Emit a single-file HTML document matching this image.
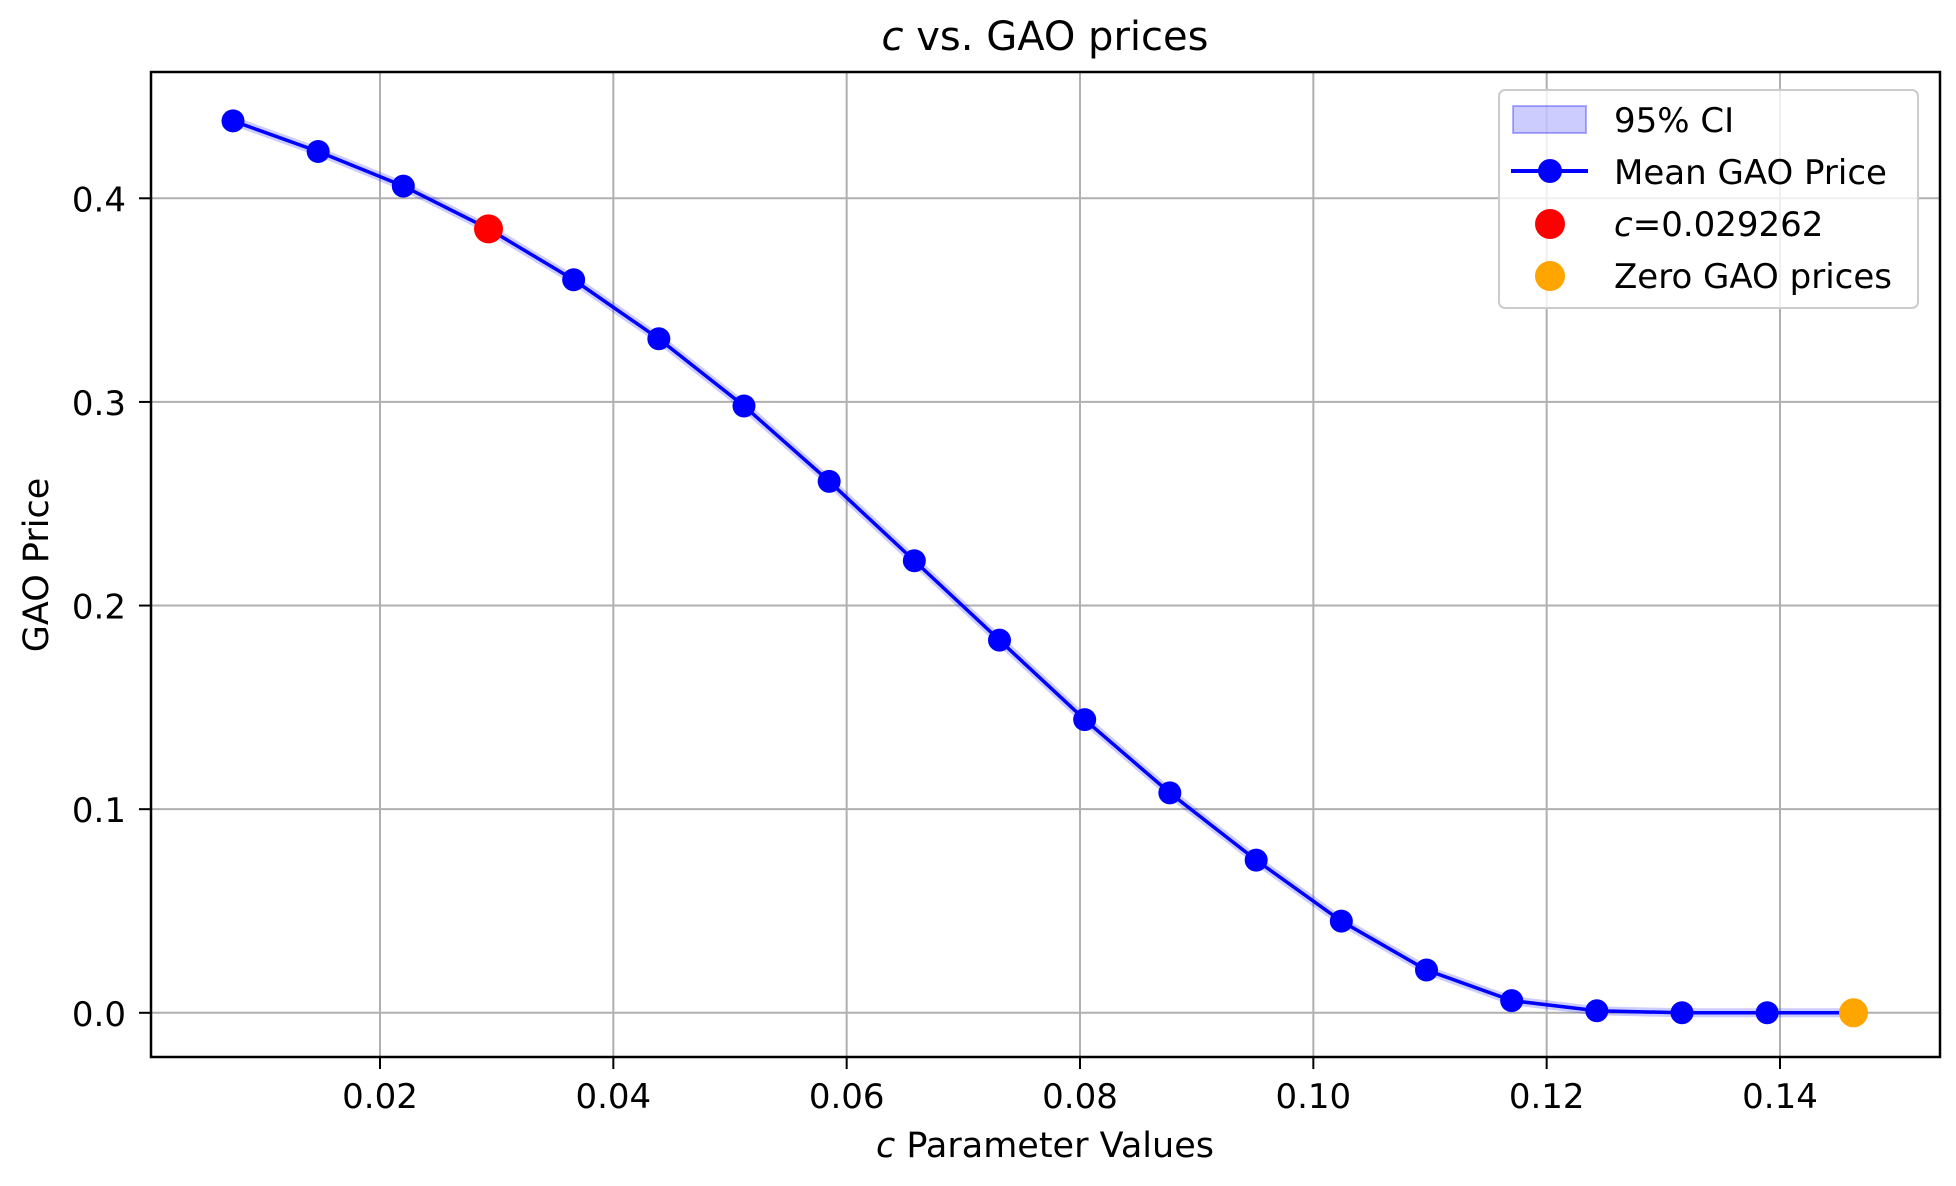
<!DOCTYPE html>
<html><head><meta charset="utf-8"><style>
html,body{margin:0;padding:0;background:#fff;}
svg text{font-family:"DejaVu Sans","Liberation Sans",sans-serif;fill:#000;}
</style></head><body>
<svg id="chart" width="1956" height="1181" viewBox="0 0 1956 1181" xmlns="http://www.w3.org/2000/svg">
<g id="grid"></g>
<g id="series"></g>
<rect x="151" y="72" width="1789" height="985" fill="none" stroke="#000" stroke-width="2.5"/>
<g id="ticks"></g>
<text x="1045" y="50" font-size="40" text-anchor="middle"><tspan font-style="italic">c</tspan> vs. GAO prices</text>
<text x="1045" y="1157" font-size="35" text-anchor="middle"><tspan font-style="italic">c</tspan> Parameter Values</text>
<text transform="translate(48,565) rotate(-90)" font-size="35" text-anchor="middle">GAO Price</text>
<g>
<rect x="1499" y="90" width="419" height="218" rx="6" fill="#fff" fill-opacity="0.8" stroke="#ccc" stroke-width="2"/>
<rect x="1513" y="106" width="73" height="27" fill="#0000ff" fill-opacity="0.2" stroke="#0000ff" stroke-opacity="0.3" stroke-width="2"/>
<text x="1614" y="132" font-size="34">95% CI</text>
<line x1="1511" y1="171" x2="1588" y2="171" stroke="#0000ff" stroke-width="4"/>
<circle cx="1550" cy="171" r="12" fill="#0000ff"/>
<text x="1614" y="184" font-size="34">Mean GAO Price</text>
<circle cx="1550" cy="224" r="15" fill="#ff0000"/>
<text x="1614" y="236" font-size="34"><tspan font-style="italic">c</tspan>=0.029262</text>
<circle cx="1550" cy="276" r="15" fill="#ffa500"/>
<text x="1614" y="288" font-size="34">Zero GAO prices</text>
</g>
</svg>
<script>
const cValues=[0.0074,0.0147,0.0220,0.0293,0.0366,0.0439,0.0512,0.0585,0.0658,0.0731,0.0804,0.0877,0.0951,0.1024,0.1097,0.1170,0.1243,0.1316,0.1389,0.1463];
const meanPrice=[0.438,0.423,0.406,0.385,0.360,0.331,0.298,0.261,0.222,0.183,0.144,0.108,0.075,0.045,0.021,0.006,0.001,0,0,0];
const xTicks=[0.02,0.04,0.06,0.08,0.10,0.12,0.14];
const xTickLabels=["0.02","0.04","0.06","0.08","0.10","0.12","0.14"];
const yTicks=[0,0.1,0.2,0.3,0.4];
const yTickLabels=["0.0","0.1","0.2","0.3","0.4"];
const highlightIndex=3;
const zeroIndex=19;
const NS="http://www.w3.org/2000/svg";
function xs(v){return 380+(v-0.02)*(1780-380)/0.12;}
function ys(v){return 1012.8-v*(1012.8-198.3)/0.4;}
function mk(tag,attrs,parent){const e=document.createElementNS(NS,tag);for(const k in attrs)e.setAttribute(k,attrs[k]);parent.appendChild(e);return e;}
const grid=document.getElementById('grid'),ticks=document.getElementById('ticks'),series=document.getElementById('series');
xTicks.forEach((t,i)=>{
 const g=mk('line',{x1:xs(t),x2:xs(t),y1:72,y2:1057,stroke:'#b0b0b0','stroke-width':2},grid);
 
 
 const tk=mk('line',{x1:xs(t),x2:xs(t),y1:1057,y2:1069,stroke:'#000','stroke-width':2},ticks);
 
 
 const tx=mk('text',{x:xs(t),y:1108,'font-size':34,'text-anchor':'middle'},ticks);
 tx.textContent=xTickLabels[i];
 
 
});
yTicks.forEach((t,i)=>{
 const g=mk('line',{x1:151,x2:1940,y1:ys(t),y2:ys(t),stroke:'#b0b0b0','stroke-width':2},grid);
 
 
 const tk=mk('line',{x1:139,x2:151,y1:ys(t),y2:ys(t),stroke:'#000','stroke-width':2},ticks);
 
 
 const tx=mk('text',{x:126,y:ys(t)+13,'font-size':34,'text-anchor':'end'},ticks);
 tx.textContent=yTickLabels[i];
 
 
});
const pts=cValues.map((c,i)=>xs(c)+','+ys(meanPrice[i])).join(' ');
const ci=mk('polyline',{points:pts,fill:'none',stroke:'#0000ff','stroke-opacity':0.2,'stroke-width':9},series);


const ln=mk('polyline',{points:pts,fill:'none',stroke:'#0000ff','stroke-width':3.5},series);


cValues.forEach((c,i)=>{
 const p=mk('circle',{cx:xs(c),cy:ys(meanPrice[i]),r:11.5,fill:'#0000ff'},series);
 
 
});
const r=mk('circle',{cx:xs(cValues[highlightIndex]),cy:ys(meanPrice[highlightIndex]),r:14.5,fill:'#ff0000'},series);


const z=mk('circle',{cx:xs(cValues[zeroIndex]),cy:ys(meanPrice[zeroIndex]),r:14.5,fill:'#ffa500'},series);


</script>
</body></html>
